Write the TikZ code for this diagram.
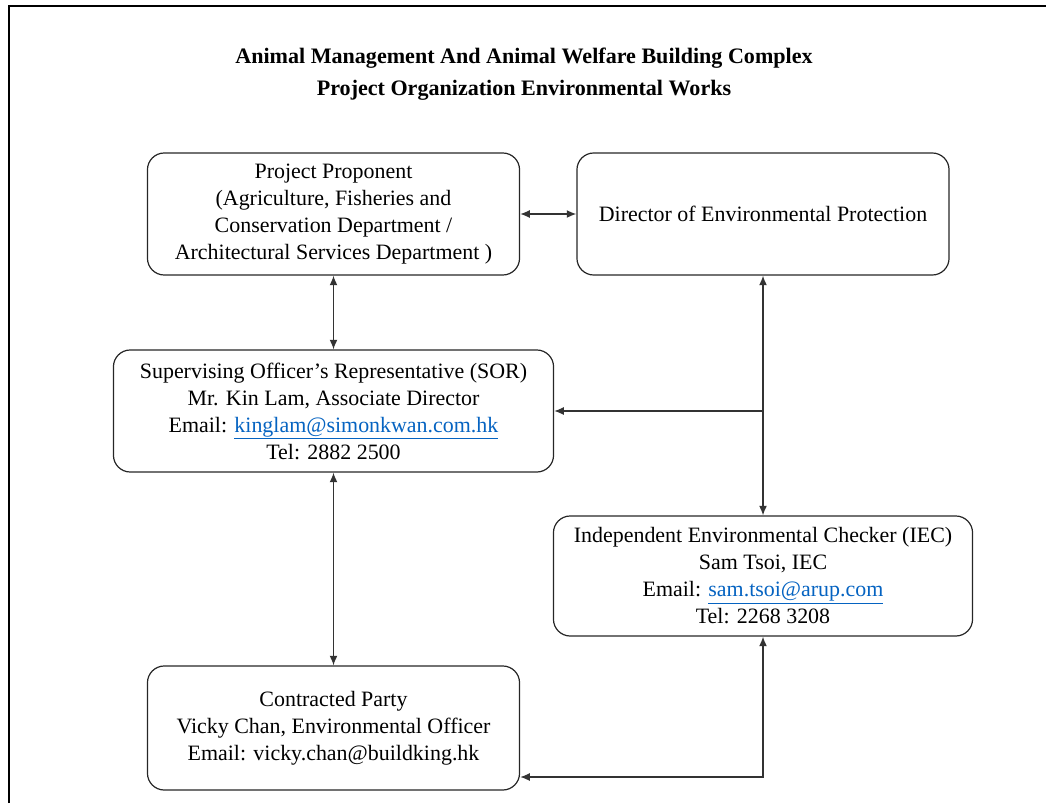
\documentclass[tikz,border=0pt]{standalone}
\usepackage{fontspec}
\setmainfont{Liberation Serif}
\usetikzlibrary{arrows.meta,calc}
\definecolor{linkblue}{RGB}{5,99,193}
\def\maillink#1{\textcolor{linkblue}{\underline{#1}}}
\tikzset{
	orgbox/.style={draw=black!85, line width=0.3mm, rounded corners=0.42cm, align=center, inner sep=0pt, font=\fontsize{15.6}{19.2}\selectfont},
	twoway/.style={line width=0.35mm, color=black!80, {Latex[length=2.4mm,width=2mm]}-{Latex[length=2.4mm,width=2mm]}},
	oneway/.style={line width=0.35mm, color=black!80, -{Latex[length=2.4mm,width=2mm]}}
}

\begin{document}
\begin{tikzpicture}[x=0.025cm, y=-0.025cm]
		%%%%% START %%%%%
		\useasboundingbox (0,0) rectangle (1046,803);
		
		\draw[line width=0.5mm] (9,803) -- (9,6) -- (1046,6);
		
		\node[font=\bfseries\fontsize{15.7}{22.8}\selectfont, align=center] (title) at (524,74) {Animal Management And Animal Welfare Building Complex\\Project Organization Environmental Works};
		
		\node[orgbox, minimum width=9.3cm, minimum height=3.05cm] (proponent) at (333.5,214) {Project Proponent\\(Agriculture, Fisheries and\\Conservation Department /\\Architectural Services Department )};
		\node[orgbox, minimum width=9.3cm, minimum height=3.05cm] (director) at (763,214) {Director of Environmental Protection};
		
		\node[orgbox, minimum width=11cm, minimum height=3.05cm] (sor) at (333.5,411) {Supervising Officer’s Representative (SOR)\\Mr. Kin Lam, Associate Director\\Email: \maillink{kinglam@simonkwan.com.hk}\\Tel: 2882 2500};
		\node[orgbox, minimum width=10.475cm, minimum height=3cm] (iec) at (763,576) {Independent Environmental Checker (IEC)\\Sam Tsoi, IEC\\Email: \maillink{sam.tsoi@arup.com}\\Tel: 2268 3208};
		\node[orgbox, minimum width=9.3cm, minimum height=3.1cm] (party) at (333.5,728) {Contracted Party\\Vicky Chan, Environmental Officer\\Email: vicky.chan@buildking.hk};
		
		\draw[twoway] (proponent) -- (director);
		\draw[twoway] (proponent) -- (sor);
		\draw[twoway] (sor) -- (party);
		\draw[twoway] (director) -- (iec);
		
		\coordinate (tap) at (director.south |- sor.east);
		\draw[oneway] (tap) -- (sor.east);
		
		\coordinate (partyin) at ($(party.east)+(0,49)$);
		\draw[twoway] (iec.south) |- (partyin);
		
		%%%%% END %%%%%
\end{tikzpicture}
\end{document}
